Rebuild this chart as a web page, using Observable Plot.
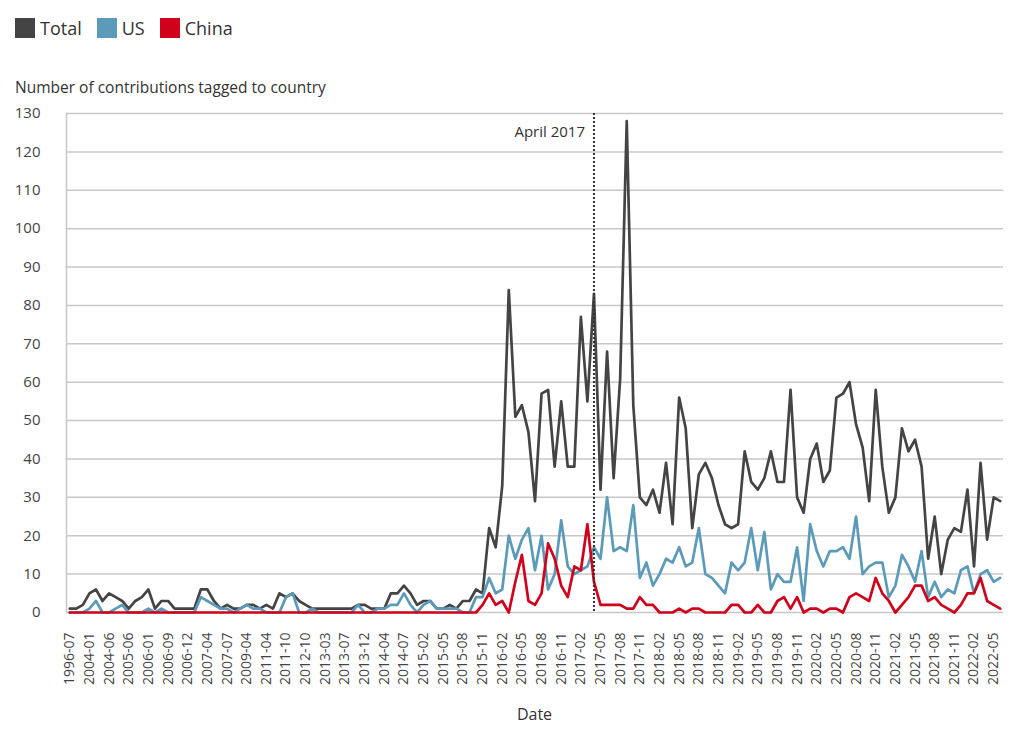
<!DOCTYPE html>
<html>
<head>
<meta charset="utf-8">
<script src="https://cdn.jsdelivr.net/npm/d3@7"></script>
<script src="https://cdn.jsdelivr.net/npm/@observablehq/plot@0.6"></script>
<style>
  body { margin: 0; background: #fff; font-family: "Open Sans", sans-serif; color: #333; }
  #wrap { position: relative; width: 1024px; height: 740px; overflow: hidden; background: #fff; }
  #legend { position: absolute; left: 15px; top: 18px; display: flex; align-items: center; font-size: 18px; line-height: 20px; }
  .item { display: flex; align-items: center; margin-right: 15px; }
  .sw { width: 20px; height: 20px; margin-right: 5px; }
  #ylabel { position: absolute; left: 15px; top: 80px; font-size: 15.5px; line-height: 15px; white-space: nowrap; }
  #chart { position: absolute; left: 0; top: 100px; }
  #xlabel { position: absolute; top: 706px; left: 0; width: 1069px; text-align: center; font-size: 16px; line-height: 16px; }
</style>
</head>
<body>
<div id="wrap">
  <div id="legend"></div>
  <div id="ylabel">Number of contributions tagged to country</div>
  <div id="chart"></div>
  <div id="xlabel">Date</div>
</div>
<script>
const dates = [
  "1996-07","1999-01","2003-09","2004-01","2004-02","2004-04","2004-06","2004-09","2005-01","2005-06",
  "2005-08","2005-10","2006-01","2006-03","2006-06","2006-09","2006-10","2006-11","2006-12","2007-02",
  "2007-03","2007-04","2007-05","2007-06","2007-07","2008-01","2008-09","2009-04","2009-11","2010-06",
  "2011-04","2011-06","2011-08","2011-10","2011-12","2012-04","2012-10","2012-11","2013-01","2013-03",
  "2013-04","2013-06","2013-07","2013-09","2013-11","2013-12","2014-01","2014-03","2014-04","2014-05",
  "2014-06","2014-07","2014-09","2014-11","2015-02","2015-03","2015-04","2015-05","2015-06","2015-07",
  "2015-08","2015-09","2015-10","2015-11","2015-12","2016-01","2016-02","2016-03","2016-04","2016-05",
  "2016-06","2016-07","2016-08","2016-09","2016-10","2016-11","2016-12","2017-01","2017-02","2017-03",
  "2017-04","2017-05","2017-06","2017-07","2017-08","2017-09","2017-10","2017-11","2017-12","2018-01",
  "2018-02","2018-03","2018-04","2018-05","2018-06","2018-07","2018-08","2018-09","2018-10","2018-11",
  "2018-12","2019-01","2019-02","2019-03","2019-04","2019-05","2019-06","2019-07","2019-08","2019-09",
  "2019-10","2019-11","2019-12","2020-01","2020-02","2020-03","2020-04","2020-05","2020-06","2020-07",
  "2020-08","2020-09","2020-10","2020-11","2020-12","2021-01","2021-02","2021-03","2021-04","2021-05",
  "2021-06","2021-07","2021-08","2021-09","2021-10","2021-11","2021-12","2022-01","2022-02","2022-03",
  "2022-04","2022-05","2022-06"
];

const xTicks = [
  "1996-07","2004-01","2004-06","2005-06","2006-01","2006-09","2006-12","2007-04","2007-07","2009-04",
  "2011-04","2011-10","2012-10","2013-03","2013-07","2013-12","2014-04","2014-07","2015-02","2015-05",
  "2015-08","2015-11","2016-02","2016-05","2016-08","2016-11","2017-02","2017-05","2017-08","2017-11",
  "2018-02","2018-05","2018-08","2018-11","2019-02","2019-05","2019-08","2019-11","2020-02","2020-05",
  "2020-08","2020-11","2021-02","2021-05","2021-08","2021-11","2022-02","2022-05"
];

const yTicks = [0, 10, 20, 30, 40, 50, 60, 70, 80, 90, 100, 110, 120, 130];

const total = [
  1,1,2,5,6,3,5,4,3,1,
  3,4,6,1,3,3,1,1,1,1,
  6,6,3,1,2,1,1,2,2,1,
  2,1,5,4,5,3,2,1,1,1,
  1,1,1,1,2,2,1,1,1,5,
  5,7,5,2,3,3,1,1,2,1,
  3,3,6,5,22,17,33,84,51,54,
  47,29,57,58,38,55,38,38,77,55,
  83,32,68,35,61,128,54,30,28,32,
  26,39,23,56,48,22,36,39,35,28,
  23,22,23,42,34,32,35,42,34,34,
  58,30,26,40,44,34,37,56,57,60,
  49,43,29,58,38,26,30,48,42,45,
  38,14,25,10,19,22,21,32,12,39,
  19,30,29
];

const us = [
  0,0,0,1,3,0,0,1,2,0,
  0,0,1,0,1,0,0,0,0,0,
  4,3,2,1,1,0,1,2,1,1,
  0,0,0,4,5,0,0,1,0,0,
  0,0,0,0,2,0,0,1,1,2,
  2,5,2,0,2,3,1,1,1,1,
  0,0,4,4,9,5,6,20,14,19,
  22,11,20,6,10,24,12,10,11,12,
  17,14,30,16,17,16,28,9,13,7,
  10,14,13,17,12,13,22,10,9,7,
  5,13,11,13,22,11,21,6,10,8,
  8,17,3,23,16,12,16,16,17,14,
  25,10,12,13,13,4,7,15,12,8,
  16,4,8,4,6,5,11,12,5,10,
  11,8,9
];

const china = [
  0,0,0,0,0,0,0,0,0,0,
  0,0,0,0,0,0,0,0,0,0,
  0,0,0,0,0,0,0,0,0,0,
  0,0,0,0,0,0,0,0,0,0,
  0,0,0,0,0,0,0,0,0,0,
  0,0,0,0,0,0,0,0,0,0,
  0,0,0,2,5,2,3,0,8,15,
  3,2,5,18,14,7,4,12,11,23,
  8,2,2,2,2,1,1,4,2,2,
  0,0,0,1,0,1,1,0,0,0,
  0,2,2,0,0,2,0,0,3,4,
  1,4,0,1,1,0,1,1,0,4,
  5,4,3,9,5,3,0,2,4,7,
  7,3,4,2,1,0,2,5,5,9,
  3,2,1
];

const seriesNames = ["Total", "US", "China"];
const seriesColors = ["#444444", "#5b9bb9", "#d0021b"];
const seriesValues = [total, us, china];

const events = [{date: "2017-04", label: "April 2017"}];

// legend
const legend = document.getElementById("legend");
seriesNames.forEach((name, k) => {
  const item = document.createElement("div");
  item.className = "item";
  const sw = document.createElement("div");
  sw.className = "sw";
  sw.style.background = seriesColors[k];
  const lab = document.createElement("span");
  lab.textContent = name;
  item.appendChild(sw);
  item.appendChild(lab);
  legend.appendChild(item);
});

const rows = [];
seriesNames.forEach((s, k) => {
  seriesValues[k].forEach((v, i) => rows.push({date: dates[i], series: s, value: v}));
});

const chart = Plot.plot({
  width: 1024,
  height: 640,
  marginTop: 13,
  marginBottom: 128,
  marginLeft: 66,
  marginRight: 21,
  style: {fontFamily: "Open Sans", fontSize: "14px", color: "#333", background: "#fff"},
  x: {type: "point", domain: dates, padding: 0.5, axis: null, label: null},
  y: {domain: [0, 130], axis: null, label: null},
  color: {domain: seriesNames, range: seriesColors},
  marks: [
    Plot.gridY(yTicks, {stroke: "#c8c8c8", strokeOpacity: 1, strokeWidth: 1.5}),
    Plot.frame({anchor: "left", stroke: "#c8c8c8", strokeWidth: 1.5}),
    Plot.axisY(yTicks, {tickSize: 0, tickPadding: 26, fontSize: 15, fill: "#444", label: null}),
    Plot.axisX(xTicks, {tickSize: 0, tickRotate: -90, tickPadding: 20, fontSize: 14, fill: "#444", label: null}),
    Plot.line(rows, {x: "date", y: "value", stroke: "series", z: "series", strokeWidth: 2.7, strokeLinejoin: "round"}),
    Plot.ruleX(events, {x: "date", stroke: "#333", strokeWidth: 2, strokeDasharray: "2,2"}),
    Plot.text(events, {x: "date", text: "label", frameAnchor: "top", dy: 13, textAnchor: "end", dx: -9, fontSize: 15, fill: "#333"})
  ]
});
document.getElementById("chart").appendChild(chart);
</script>
</body>
</html>
